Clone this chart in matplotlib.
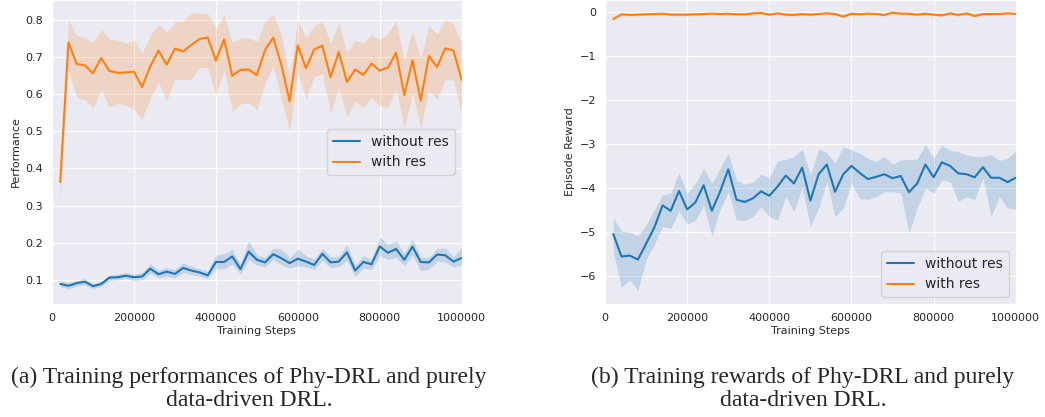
import numpy as np
import matplotlib
matplotlib.use("Agg")
import matplotlib.pyplot as plt
import seaborn as sns

sns.set_style("darkgrid")
plt.rcParams['font.family'] = ['DejaVu Sans']

# training steps: every 20000 up to 1e6
steps = np.arange(20000, 1000001, 20000)

# (a) performance
perf_res = [0.363, 0.739, 0.681, 0.677, 0.656, 0.697, 0.662, 0.657, 0.658, 0.660,
            0.619, 0.675, 0.717, 0.679, 0.722, 0.715, 0.732, 0.748, 0.752, 0.690,
            0.747, 0.649, 0.665, 0.666, 0.651, 0.718, 0.752, 0.678, 0.580, 0.731,
            0.669, 0.720, 0.730, 0.645, 0.713, 0.632, 0.666, 0.651, 0.682, 0.663,
            0.671, 0.711, 0.597, 0.691, 0.582, 0.702, 0.673, 0.723, 0.717, 0.638]
perf_res_hi = [0.41, 0.800, 0.758, 0.752, 0.738, 0.775, 0.748, 0.744, 0.737, 0.745,
               0.711, 0.759, 0.788, 0.766, 0.795, 0.796, 0.819, 0.817, 0.817, 0.776,
               0.815, 0.739, 0.750, 0.752, 0.741, 0.795, 0.815, 0.761, 0.647, 0.799,
               0.752, 0.785, 0.796, 0.736, 0.792, 0.711, 0.745, 0.736, 0.761, 0.745,
               0.763, 0.797, 0.691, 0.770, 0.696, 0.784, 0.761, 0.801, 0.790, 0.736]
perf_res_lo = [0.315, 0.665, 0.591, 0.584, 0.563, 0.611, 0.564, 0.575, 0.570, 0.559,
               0.532, 0.589, 0.631, 0.581, 0.640, 0.638, 0.641, 0.671, 0.671, 0.596,
               0.665, 0.553, 0.573, 0.577, 0.557, 0.629, 0.674, 0.587, 0.499, 0.660,
               0.586, 0.647, 0.654, 0.550, 0.615, 0.539, 0.580, 0.564, 0.590, 0.568,
               0.564, 0.611, 0.508, 0.602, 0.508, 0.609, 0.586, 0.638, 0.638, 0.544]

perf_nores = [0.089, 0.084, 0.091, 0.095, 0.083, 0.089, 0.106, 0.107, 0.111, 0.107,
              0.109, 0.130, 0.115, 0.122, 0.116, 0.132, 0.125, 0.120, 0.112, 0.148,
              0.148, 0.163, 0.129, 0.176, 0.154, 0.147, 0.169, 0.158, 0.145, 0.157,
              0.149, 0.140, 0.170, 0.147, 0.149, 0.174, 0.125, 0.148, 0.142, 0.190,
              0.173, 0.183, 0.154, 0.189, 0.148, 0.147, 0.168, 0.166, 0.149, 0.159]
perf_nores_hi = [0.097, 0.093, 0.098, 0.103, 0.090, 0.096, 0.113, 0.115, 0.120, 0.115,
                 0.120, 0.143, 0.126, 0.133, 0.128, 0.146, 0.137, 0.130, 0.123, 0.167,
                 0.170, 0.182, 0.142, 0.205, 0.168, 0.160, 0.185, 0.183, 0.160, 0.183,
                 0.165, 0.155, 0.185, 0.162, 0.163, 0.195, 0.140, 0.165, 0.155, 0.215,
                 0.195, 0.205, 0.172, 0.210, 0.162, 0.160, 0.185, 0.185, 0.163, 0.188]
perf_nores_lo = [0.082, 0.076, 0.083, 0.087, 0.076, 0.082, 0.098, 0.099, 0.103, 0.098,
                 0.100, 0.118, 0.105, 0.110, 0.105, 0.120, 0.114, 0.110, 0.103, 0.130,
                 0.130, 0.142, 0.115, 0.155, 0.140, 0.135, 0.155, 0.140, 0.132, 0.138,
                 0.135, 0.128, 0.152, 0.133, 0.136, 0.152, 0.108, 0.132, 0.128, 0.165,
                 0.155, 0.160, 0.138, 0.165, 0.125, 0.128, 0.150, 0.148, 0.135, 0.140]

# (b) episode reward
rew_res = [-0.15, -0.045, -0.06, -0.053, -0.045, -0.038, -0.03, -0.053, -0.053, -0.053,
           -0.045, -0.038, -0.03, -0.038, -0.03, -0.045, -0.045, -0.023, -0.015, -0.053,
           -0.023, -0.053, -0.06, -0.038, -0.053, -0.038, -0.023, -0.038, -0.098, -0.03,
           -0.045, -0.03, -0.038, -0.06, -0.008, -0.03, -0.03, -0.053, -0.03, -0.053,
           -0.068, -0.023, -0.06, -0.023, -0.083, -0.038, -0.038, -0.038, -0.023, -0.038]
rew_res_band = 0.03

rew_nores = [-5.04, -5.55, -5.53, -5.62, -5.26, -4.89, -4.39, -4.51, -4.06, -4.48,
             -4.32, -3.93, -4.51, -4.08, -3.57, -4.26, -4.31, -4.23, -4.07, -4.17,
             -3.96, -3.71, -3.89, -3.53, -4.28, -3.68, -3.46, -4.08, -3.68, -3.49,
             -3.65, -3.79, -3.74, -3.68, -3.77, -3.72, -4.09, -3.89, -3.46, -3.75,
             -3.41, -3.49, -3.66, -3.68, -3.75, -3.52, -3.76, -3.76, -3.86, -3.76]
rew_nores_hi = [-4.68, -4.97, -5.00, -5.08, -4.83, -4.49, -4.15, -4.10, -3.65, -4.11,
                -3.89, -3.55, -3.89, -3.55, -3.20, -3.81, -3.91, -3.86, -3.68, -3.76,
                -3.38, -3.34, -3.28, -3.11, -3.70, -3.11, -3.19, -3.43, -3.05, -3.13,
                -3.20, -3.32, -3.39, -3.28, -3.45, -3.36, -3.34, -3.34, -3.00, -3.32,
                -3.02, -3.14, -3.17, -3.24, -3.28, -3.28, -3.23, -3.37, -3.32, -3.15]
rew_nores_lo = [-5.45, -6.25, -6.08, -6.32, -5.62, -5.28, -4.87, -4.91, -4.53, -4.81,
                -4.73, -4.38, -5.08, -4.49, -4.08, -4.72, -4.73, -4.64, -4.42, -4.64,
                -4.72, -4.19, -4.53, -3.98, -4.87, -4.45, -3.85, -4.64, -4.45, -3.89,
                -4.23, -4.25, -4.19, -4.08, -4.08, -4.10, -5.00, -4.45, -4.00, -4.11,
                -3.81, -3.85, -4.30, -4.19, -4.26, -3.77, -4.64, -4.19, -4.45, -4.48]

blue = "#1f77b4"
orange = "#ff7f0e"

fig = plt.figure(figsize=(10.45, 4.17), dpi=100)
ax1 = fig.add_axes([0.0498, 0.271, 0.392, 0.729])
ax2 = fig.add_axes([0.579, 0.271, 0.393, 0.729])

# left panel
ax1.plot(steps, perf_nores, color=blue, lw=1.5, label="without res")
ax1.fill_between(steps, perf_nores_lo, perf_nores_hi, color=blue, alpha=0.2, lw=0)
ax1.plot(steps, perf_res, color=orange, lw=1.5, label="with res")
ax1.fill_between(steps, perf_res_lo, perf_res_hi, color=orange, alpha=0.2, lw=0)
ax1.set_xlim(0, 1000000)
ax1.set_ylim(0.035, 0.853)
ax1.set_yticks([0.1, 0.2, 0.3, 0.4, 0.5, 0.6, 0.7, 0.8])
ax1.set_ylabel("Performance", fontsize=8, labelpad=3)
ax1.legend(loc="center right", fontsize=10, bbox_to_anchor=(1.0, 0.5))

# right panel
ax2.plot(steps, rew_nores, color=blue, lw=1.5, label="without res")
ax2.fill_between(steps, rew_nores_lo, rew_nores_hi, color=blue, alpha=0.2, lw=0)
ax2.plot(steps, rew_res, color=orange, lw=1.5, label="with res")
ax2.fill_between(steps, np.array(rew_res) - rew_res_band, np.array(rew_res) + rew_res_band,
                 color=orange, alpha=0.2, lw=0)
ax2.set_xlim(0, 1000000)
ax2.set_ylim(-6.63, 0.28)
ax2.set_yticks([-6, -5, -4, -3, -2, -1, 0])
ax2.set_ylabel("Episode Reward", fontsize=8, labelpad=3)
ax2.legend(loc="lower right", fontsize=10)

for ax in (ax1, ax2):
    ax.set_xticks([0, 200000, 400000, 600000, 800000, 1000000])
    ax.ticklabel_format(axis="x", style="plain", useOffset=False)
    ax.set_xlabel("Training Steps", fontsize=8, labelpad=2)
    ax.tick_params(labelsize=8, pad=3)

cap = dict(ha="center", va="center", fontsize=17, family="Liberation Serif")
fig.text(249 / 1045, 1 - 377 / 417, "(a) Training performances of Phy-DRL and purely", **cap)
fig.text(249 / 1045, 1 - 400 / 417, "data-driven DRL.", **cap)
fig.text(803 / 1045, 1 - 377 / 417, "(b) Training rewards of Phy-DRL and purely", **cap)
fig.text(803 / 1045, 1 - 400 / 417, "data-driven DRL.", **cap)

fig.savefig("out.png", dpi=100)
